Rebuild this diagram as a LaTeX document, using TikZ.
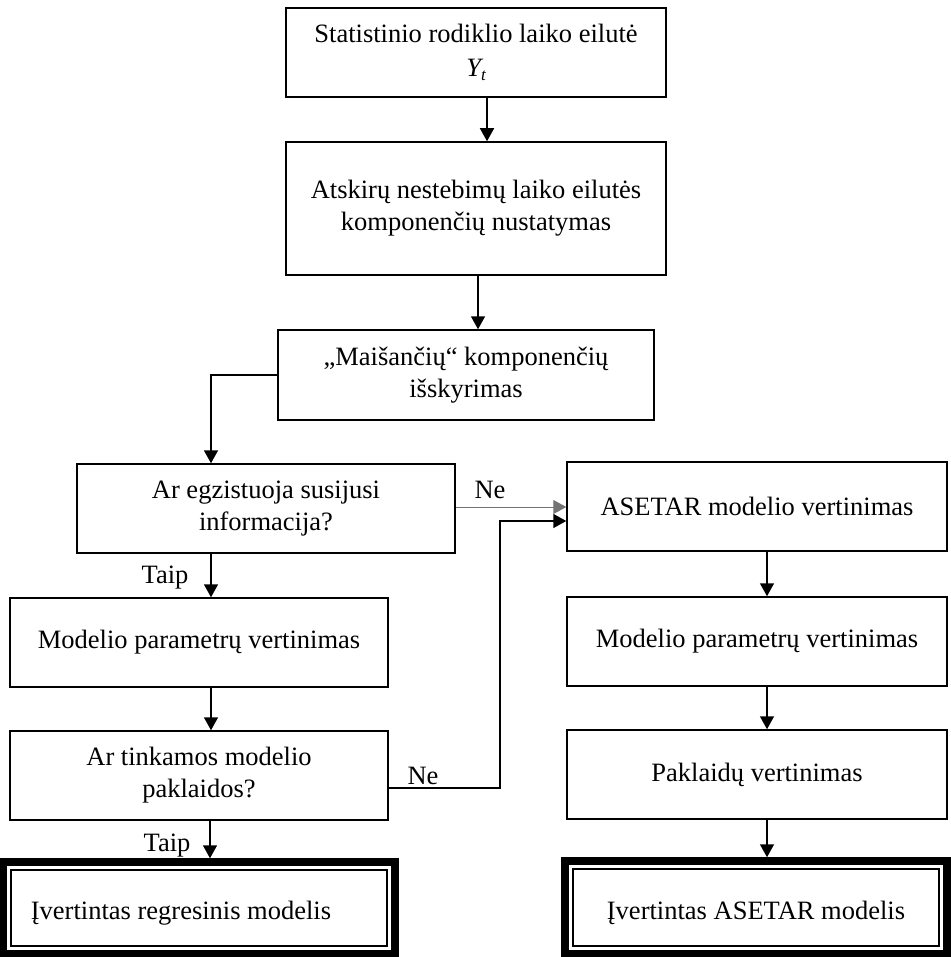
\documentclass[tikz,border=0pt]{standalone}
\usepackage{fontspec}
\setmainfont{Liberation Serif}
\usetikzlibrary{arrows.meta}
\begin{document}
\begin{tikzpicture}[x=1pt,y=-1pt,
  box/.style={draw, line width=1.5pt, align=center, inner sep=0pt,
              font=\fontsize{26.5}{32}\selectfont},
  arr/.style={line width=1.5pt, -{Triangle[length=13pt,width=14pt]}},
  lbl/.style={font=\fontsize{26.5}{32}\selectfont, inner sep=0pt},
  frame/.style={line width=8pt},
]
\useasboundingbox (0,0) rectangle (950,957);

% main chain
\node[box, minimum width=380, minimum height=89] (b1) at (476,52.5)
  {Statistinio rodiklio laiko eilutė\\[2pt]{\itshape Y}\raisebox{-0.3ex}{\fontsize{17}{17}\selectfont\itshape t}};
\node[box, minimum width=380, minimum height=133] (b2) at (476,208.5)
  {Atskirų nestebimų laiko eilutės\\komponenčių nustatymas};
\node[box, minimum width=376, minimum height=90] (b3) at (466,375)
  {„Maišančių“ komponenčių\\išskyrimas};

% left branch
\node[box, minimum width=378, minimum height=89] (b4) at (266,508.5)
  {Ar egzistuoja susijusi\\informacija?};
\node[box, minimum width=378, minimum height=89] (b5) at (199,642.5)
  {Modelio parametrų vertinimas};
\node[box, minimum width=378, minimum height=89] (b6) at (199,775.5)
  {Ar tinkamos modelio\\paklaidos?};
\node[draw, line width=1.5pt, minimum width=376, minimum height=76, inner sep=0pt] (fL) at (199,908) {};
\draw[frame] ([shift={(-7,-7)}]fL.north west) rectangle ([shift={(7,7)}]fL.south east);
\node[lbl] (fLt) at (181,913) {Įvertintas regresinis modelis};

% right branch
\node[box, minimum width=380, minimum height=89] (as) at (757,506.5)
  {ASETAR modelio vertinimas};
\node[box, minimum width=380, minimum height=89] (mr) at (757,641.5)
  {Modelio parametrų vertinimas};
\node[box, minimum width=380, minimum height=89] (pk) at (757,774.5)
  {Paklaidų vertinimas};
\node[draw, line width=1.5pt, minimum width=366, minimum height=77, inner sep=0pt] (fR) at (756,907.5) {};
\draw[frame] ([shift={(-7,-7)}]fR.north west) rectangle ([shift={(7,7)}]fR.south east);
\node[lbl] (fRt) at (756,913) {Įvertintas ASETAR modelis};

% outer tops of the framed boxes
\coordinate (fLtop) at ([shift={(0,-11)}]fL.north);
\coordinate (fRtop) at ([shift={(0,-11)}]fR.north);

% connectors
\draw[arr] ([shift={(11,0)}]b1.south) -- ([shift={(11,0)}]b1.south |- b2.north);
\draw[arr] ([shift={(2,0)}]b2.south) -- ([shift={(2,0)}]b2.south |- b3.north);
\draw[arr] (b3.west) -| ([shift={(-55,0)}]b4.north);
\draw[arr] ([shift={(-55,0)}]b4.south) -- ([shift={(-55,0)}]b4.south |- b5.north);
\draw[arr] ([shift={(12,0)}]b5.south) -- ([shift={(12,0)}]b5.south |- b6.north);
\draw[arr] ([shift={(11,0)}]b6.south) -- ([shift={(11,0)}]b6.south |- fLtop);

\draw[arr, draw=black!55, line width=1pt] ([shift={(0,-1.5)}]b4.east) -- ([shift={(0,-1.5)}]b4.east -| as.west);
\coordinate (j1) at (500,788);
\coordinate (j2) at (500,521);
\draw[arr] (b6.east |- j1) -- (j1) -- (j2) -- (j2 -| as.west);

\draw[arr] ([shift={(10,0)}]as.south) -- ([shift={(10,0)}]as.south |- mr.north);
\draw[arr] ([shift={(10,0)}]mr.south) -- ([shift={(10,0)}]mr.south |- pk.north);
\draw[arr] ([shift={(10,0)}]pk.south) -- ([shift={(10,0)}]pk.south |- fRtop);

% branch labels
\node[lbl] (ne1) at (490,490) {Ne};
\node[lbl] (ne2) at (423,776) {Ne};
\node[lbl] (ta1) at (165,578) {Taip};
\node[lbl] (ta2) at (167,846) {Taip};
\end{tikzpicture}
\end{document}
